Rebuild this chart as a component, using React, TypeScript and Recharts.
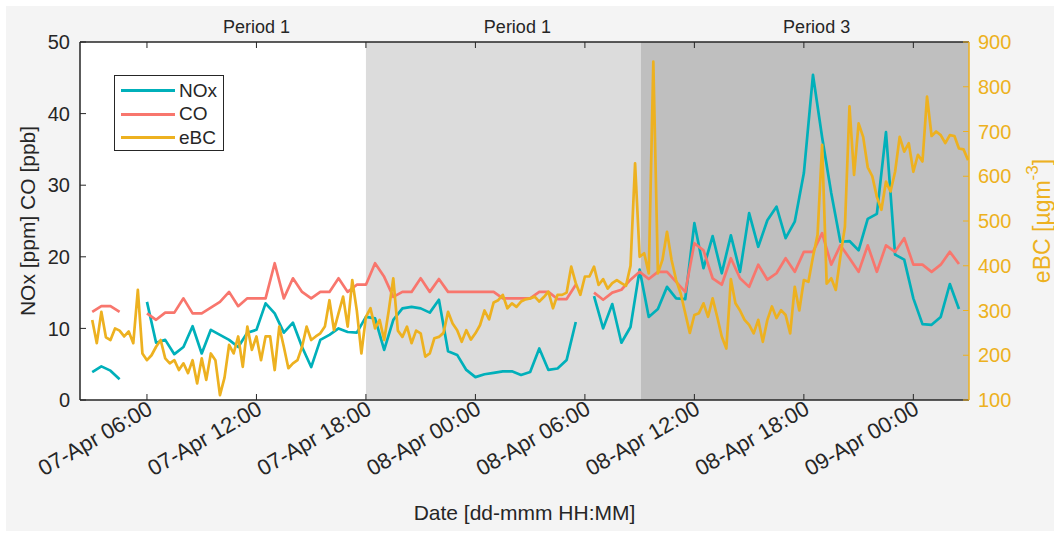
import React from 'react'
import { ComposedChart, Line, XAxis, YAxis, ReferenceArea, ReferenceLine, Label } from 'recharts'

// time axis is hours after 07-Apr 00:00
const T0 = 3
const GAS_STEP = 0.5
const EBC_STEP = 0.25

// NOx [ppm], 30 min averages (null = no data)
const NOX = [
  3.9, 4.7, 4.1, 2.9, null, null, 13.7, 8.0, 8.4, 6.4, 7.4, 10.3,
  6.5, 9.8, 9.1, 8.4, 7.4, 9.4, 9.8, 13.5, 12.1, 9.4, 10.8, 7.4,
  4.6, 8.4, 9.1, 10.0, 9.5, 9.4, 11.6, 11.4, 7.0, 11.2, 12.8, 13.0,
  12.8, 12.2, 14.0, 6.8, 6.3, 4.2, 3.2, 3.6, 3.8, 4.0, 4.0, 3.5,
  3.9, 7.2, 4.2, 4.4, 5.6, 10.9, null, 14.5, 10.0, 13.4, 8.0, 10.2,
  18.2, 11.6, 12.7, 15.8, 14.2, 14.1, 24.7, 18.4, 22.9, 17.7, 23.0, 17.9,
  26.1, 21.4, 25.1, 27.0, 22.6, 24.9, 31.7, 45.4, 36.7, 28.9, 22.1, 22.2,
  20.9, 25.3, 26.0, 37.4, 20.3, 19.6, 14.2, 10.6, 10.5, 11.6, 16.2, 12.7,
]

// CO [ppb], 30 min averages
const CO = [
  12.3, 13.1, 13.1, 12.3, null, null, 12.1, 11.2, 12.2, 12.2, 14.2, 12.1,
  12.1, 12.9, 13.7, 15.1, 13.1, 14.2, 14.2, 14.2, 19.1, 14.2, 17.0, 15.1,
  14.2, 15.1, 15.1, 17.0, 15.1, 16.1, 16.1, 19.1, 17.2, 14.4, 15.1, 15.1,
  17.0, 15.1, 16.9, 15.1, 15.1, 15.1, 15.1, 15.1, 15.1, 14.2, 14.2, 14.2,
  14.2, 15.1, 15.1, 14.1, 14.1, 16.1, null, 15.0, 14.0, 15.0, 15.4, 16.8,
  17.9, 16.9, 17.9, 17.9, 16.5, 15.1, 21.9, 20.9, 17.0, 16.1, 19.8, 17.0,
  15.8, 18.9, 16.8, 17.7, 19.8, 17.9, 20.7, 20.7, 23.3, 18.9, 21.6, 19.8,
  17.9, 21.6, 17.9, 21.6, 20.7, 22.6, 18.9, 18.9, 17.9, 18.9, 20.7, 19.0,
]

// eBC [ug m-3], 15 min, one row per hour starting 03:00
const EBC = [
  279, 227, 297, 240,
  234, 260, 255, 242,
  253, 227, 346, 204,
  189, 200, 219, 234,
  193, 182, 189, 167,
  182, 160, 189, 137,
  193, 145, 204, 189,
  111, 150, 223, 204,
  242, 174, 264, 212,
  242, 189, 242, 242,
  167, 264, 219, 171,
  182, 189, 219, 264,
  234, 242, 249, 264,
  323, 256, 294, 331,
  264, 368, 300, 204,
  286, 305, 260, 279,
  234, 300, 372, 255,
  241, 264, 227, 255,
  249, 197, 204, 238,
  241, 250, 297, 271,
  256, 230, 256, 235,
  249, 267, 300, 280,
  318, 323, 335, 305,
  316, 308, 320, 325,
  327, 331, 320, 330,
  342, 305, 335, 335,
  340, 398, 361, 335,
  376, 376, 398, 357,
  370, 349, 361, 368,
  361, 355, 400, 629,
  420, 428, 383, 856,
  383, 413, 476, 413,
  368, 338, 294, 250,
  290, 294, 316, 286,
  327, 286, 242, 215,
  370, 316, 300, 279,
  268, 249, 279, 230,
  279, 309, 283, 301,
  290, 249, 353, 300,
  368, 364, 420, 469,
  670, 360, 372, 346,
  420, 487, 756, 603,
  718, 688, 620, 600,
  554, 525, 588, 566,
  610, 688, 655, 674,
  610, 648, 633, 778,
  690, 700, 692, 674,
  692, 690, 662, 660,
  636,
]

const X_MIN = 2.33
const X_MAX = 51.05
const TICK_HOURS = [6, 12, 18, 24, 30, 36, 42, 48]
const TICK_LABELS = [
  '07-Apr 06:00', '07-Apr 12:00', '07-Apr 18:00', '08-Apr 00:00',
  '08-Apr 06:00', '08-Apr 12:00', '08-Apr 18:00', '09-Apr 00:00',
]
const LEFT_TICKS = [0, 10, 20, 30, 40, 50]
const RIGHT_TICKS = [100, 200, 300, 400, 500, 600, 700, 800, 900]

const PERIOD_EDGES = [X_MIN, 18, 33.07, X_MAX]
const PERIOD_FILLS = ['#ffffff', '#dcdcdc', '#bfbfbf']
const PERIOD_LABEL_AT = [12, 26.3, 42.7]
const PERIOD_NAMES = ['Period 1', 'Period 1', 'Period 3']

const SERIES = [
  { name: 'NOx', color: '#00b0ba' },
  { name: 'CO', color: '#f8766d' },
  { name: 'eBC', color: '#edb120' },
]

const DARK = '#262626'

const toPoints = (vals: (number | null)[], step: number) =>
  vals.map((v, i) => ({ t: T0 + i * step, v }))

const noxData = toPoints(NOX, GAS_STEP)
const coData = toPoints(CO, GAS_STEP)
const ebcData = toPoints(EBC, EBC_STEP)

const DateTick = (props: any) => {
  const { x, y, payload } = props
  const label = TICK_LABELS[TICK_HOURS.indexOf(payload.value)]
  const ax = x + 7
  const ay = y + 7
  return (
    <text x={ax} y={ay} textAnchor="end" fontSize={22} fill={DARK} transform={`rotate(-30 ${ax} ${ay})`}>
      {label}
    </text>
  )
}

const NoTick = () => <g />

export default function App() {
  return (
    <div
      style={{
        position: 'absolute',
        left: 6,
        top: 6,
        width: 1048,
        height: 525,
        background: '#f4f4f4',
        fontFamily: '"Liberation Sans", Arial, Helvetica, sans-serif',
      }}
    >
      <ComposedChart width={1048} height={525} margin={{ top: 35, right: 25, bottom: 31, left: 14 }}>
        <XAxis
          dataKey="t"
          type="number"
          domain={[X_MIN, X_MAX]}
          ticks={TICK_HOURS}
          allowDataOverflow
          height={100}
          tickSize={-6}
          tickMargin={12}
          tick={<DateTick />}
          stroke={DARK}
          axisLine={{ stroke: DARK, strokeWidth: 1.5 }}
          tickLine={{ stroke: DARK }}
        >
          <Label
            content={(p: any) => (
              <text
                x={p.viewBox.x + p.viewBox.width / 2}
                y={p.viewBox.y + 120}
                textAnchor="middle"
                fontSize={21}
                fill={DARK}
              >
                Date [dd-mmm HH:MM]
              </text>
            )}
          />
        </XAxis>
        <XAxis
          xAxisId="top"
          orientation="top"
          dataKey="t"
          type="number"
          domain={[X_MIN, X_MAX]}
          ticks={TICK_HOURS}
          allowDataOverflow
          height={1}
          tickSize={-6}
          tick={<NoTick />}
          axisLine={{ stroke: DARK, strokeWidth: 1.5 }}
          tickLine={{ stroke: DARK }}
        />
        <YAxis
          yAxisId="left"
          domain={[0, 50]}
          ticks={LEFT_TICKS}
          width={60}
          tickSize={-6}
          tickMargin={16}
          tick={{ fontSize: 20, fill: DARK }}
          axisLine={{ stroke: DARK, strokeWidth: 1.5 }}
          tickLine={{ stroke: DARK }}
        >
          <Label
            content={(p: any) => {
              const cx = p.viewBox.x + 7
              const cy = p.viewBox.y + p.viewBox.height / 2
              return (
                <text x={cx} y={cy} textAnchor="middle" dominantBaseline="central" fontSize={21} fill={DARK} transform={`rotate(-90 ${cx} ${cy})`}>
                  NOx [ppm] CO [ppb]
                </text>
              )
            }}
          />
        </YAxis>
        <YAxis
          yAxisId="right"
          orientation="right"
          domain={[100, 900]}
          ticks={RIGHT_TICKS}
          width={60}
          tickSize={-6}
          tickMargin={15}
          tick={{ fontSize: 20, fill: '#edb120' }}
          axisLine={{ stroke: '#edb120', strokeWidth: 1.5 }}
          tickLine={{ stroke: '#edb120' }}
        >
          <Label
            content={(p: any) => {
              const cx = p.viewBox.x + 73
              const cy = p.viewBox.y + p.viewBox.height / 2
              return (
                <text x={cx} y={cy} textAnchor="middle" dominantBaseline="central" fontSize={23} fill="#edb120" transform={`rotate(-90 ${cx} ${cy})`}>
                  eBC [µgm<tspan dy={-10} fontSize={17}>-3</tspan><tspan dy={10}>]</tspan>
                </text>
              )
            }}
          />
        </YAxis>

        {PERIOD_FILLS.map((fill, i) => (
          <ReferenceArea
            key={i}
            yAxisId="left"
            x1={PERIOD_EDGES[i]}
            x2={PERIOD_EDGES[i + 1]}
            fill={fill}
            fillOpacity={1}
            stroke="none"
            ifOverflow="hidden"
          />
        ))}
        {PERIOD_LABEL_AT.map((t, i) => (
          <ReferenceLine
            key={i}
            yAxisId="left"
            x={t}
            stroke="none"
            label={{ value: PERIOD_NAMES[i], position: 'top', offset: 9, fontSize: 18, fill: DARK }}
          />
        ))}

        <Line data={noxData} dataKey="v" yAxisId="left" name="NOx" stroke={SERIES[0].color} strokeWidth={2.7} dot={false} isAnimationActive={false} strokeLinejoin="round" />
        <Line data={coData} dataKey="v" yAxisId="left" name="CO" stroke={SERIES[1].color} strokeWidth={2.7} dot={false} isAnimationActive={false} strokeLinejoin="round" />
        <Line data={ebcData} dataKey="v" yAxisId="right" name="eBC" stroke={SERIES[2].color} strokeWidth={2.7} dot={false} isAnimationActive={false} strokeLinejoin="round" />
      </ComposedChart>

      <div
        style={{
          position: 'absolute',
          left: 108,
          top: 69,
          width: 110,
          height: 76,
          boxSizing: 'border-box',
          background: '#fff',
          border: `1.5px solid ${DARK}`,
          padding: '3px 0 0 6px',
        }}
      >
        {SERIES.map((s) => (
          <div key={s.name} style={{ display: 'flex', alignItems: 'center', height: 23.5 }}>
            <div style={{ width: 54, height: 3, background: s.color }} />
            <span style={{ marginLeft: 4, fontSize: 19, color: DARK, lineHeight: '20px' }}>{s.name}</span>
          </div>
        ))}
      </div>
    </div>
  )
}
